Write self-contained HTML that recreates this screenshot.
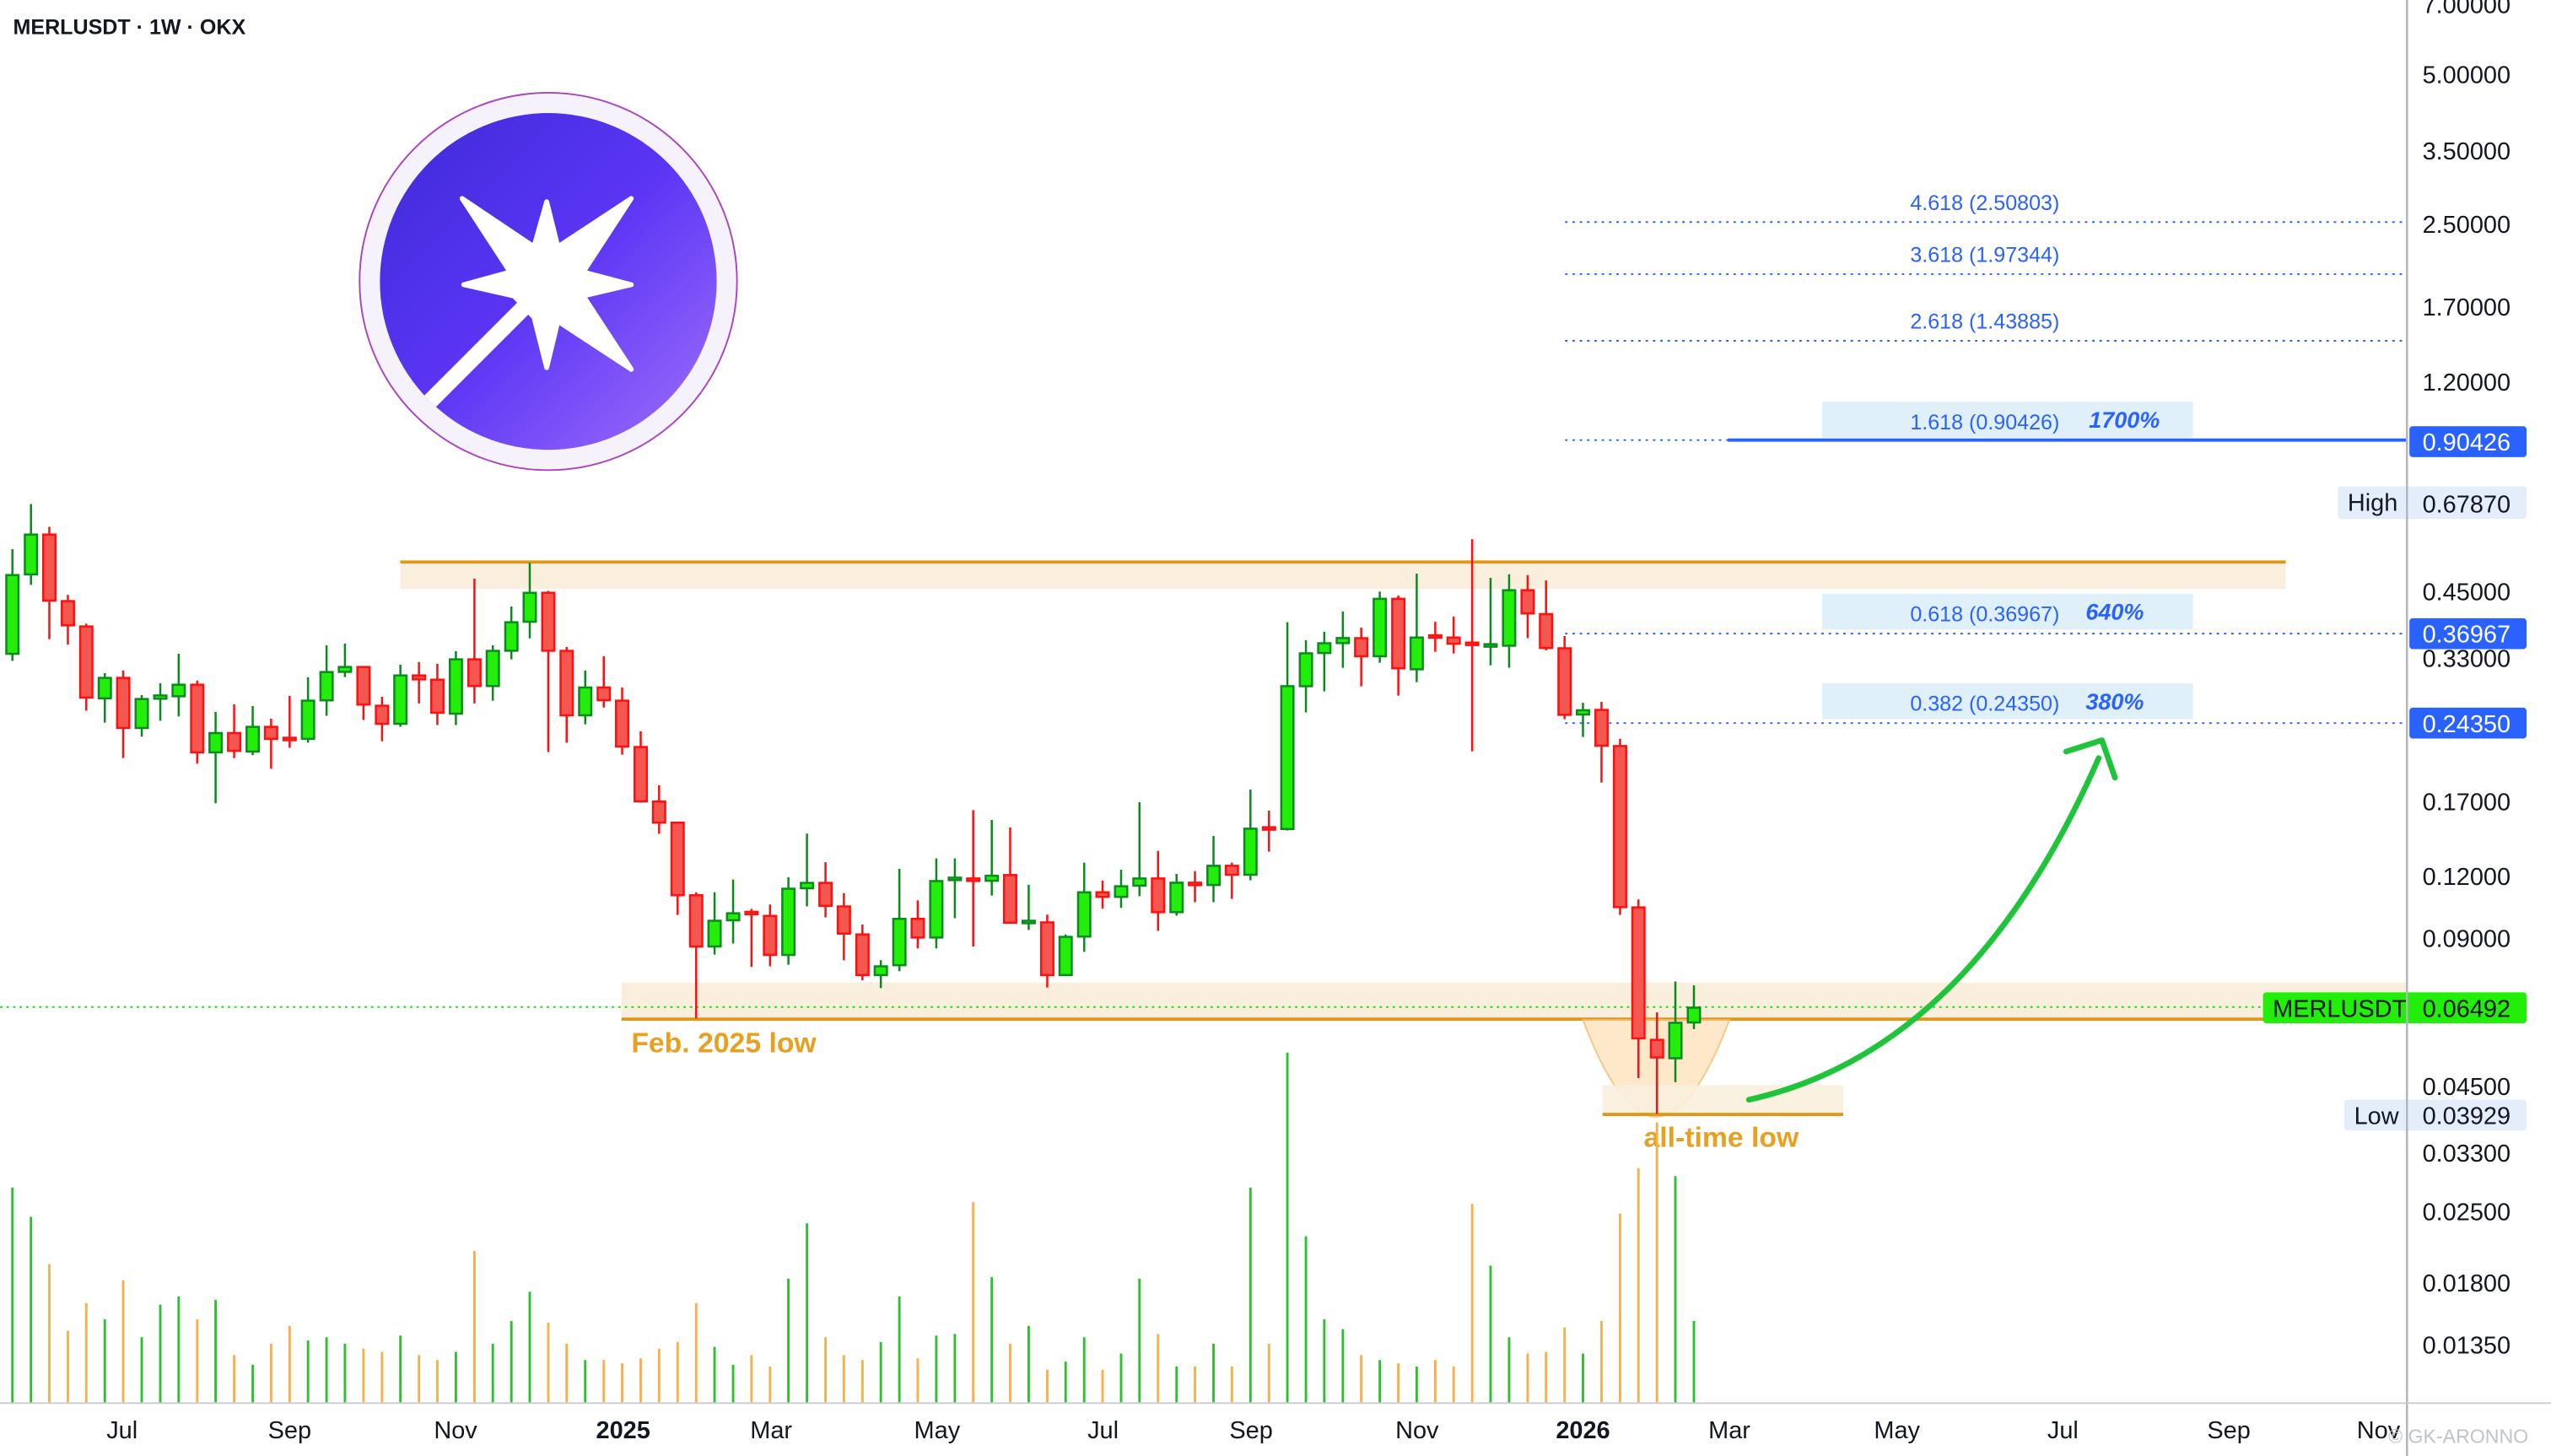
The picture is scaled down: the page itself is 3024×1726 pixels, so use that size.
<!DOCTYPE html>
<html><head><meta charset="utf-8"><style>
html,body{margin:0;padding:0;background:#fff;}
svg{display:block;}
text{font-family:"Liberation Sans",Arial,sans-serif;}
.g rect{fill:#22ee0a;stroke:#0b8a1e;stroke-width:1.3}
.g path{stroke:#0b8a1e;stroke-width:1.3;fill:none}
.r rect{fill:#f4574f;stroke:#ff1010;stroke-width:1.3}
.r path{stroke:#ff1010;stroke-width:1.3;fill:none}
.ax{font-size:15px;fill:#131722}
.tm{font-size:15px;fill:#131722}
</style></head><body>
<svg width="3024" height="1726" viewBox="0 0 1568 895" xmlns="http://www.w3.org/2000/svg">
<rect width="1568" height="895" fill="#fff"/>
<text x="8" y="21" font-size="13" font-weight="bold" fill="#131722">MERLUSDT · 1W · OKX</text>

<defs>
<linearGradient id="lg" x1="0" y1="0" x2="1" y2="1">
<stop offset="0" stop-color="#3d2bd6"/><stop offset="0.5" stop-color="#5b35f5"/><stop offset="1" stop-color="#a070fa"/>
</linearGradient>
<clipPath id="cc"><circle cx="337" cy="173" r="103.5"/></clipPath>
</defs>
<circle cx="337" cy="173" r="116" fill="#f6f2fc" stroke="#a845c0" stroke-width="1"/>
<circle cx="337" cy="173" r="103.5" fill="url(#lg)"/>
<g transform="translate(336,175)" fill="#fff">
<path d="M0,-51 L6.9,-23.3 L52,-53 L22.5,-7.8 L52,0 L22.5,6.9 L52,52 L6.9,22.5 L0,51 L-7.8,20 L-20,7 L-51,0 L-22.5,-7.8 L-52,-53 L-7.8,-23.3 Z" stroke="#fff" stroke-width="3" stroke-linejoin="round"/>
</g>
<g clip-path="url(#cc)"><line x1="340" y1="171" x2="250" y2="261" stroke="#fff" stroke-width="10"/></g>

<rect x="246" y="347" width="1159" height="15" fill="#faefdd"/>
<line x1="246" y1="345.5" x2="1405" y2="345.5" stroke="#e0981a" stroke-width="2"/>
<rect x="382" y="604" width="1097" height="22" fill="#faefdd"/>
<line x1="0" y1="619" x2="1391" y2="619" stroke="#22dd22" stroke-width="1" stroke-dasharray="1.5 2.5"/>
<line x1="382" y1="626.5" x2="1479" y2="626.5" stroke="#e0981a" stroke-width="2"/>
<text x="388" y="647" font-size="17.5" font-weight="bold" fill="#e8a020">Feb. 2025 low</text>
<path d="M973,627 Q1018,746 1063,627 Z" fill="#fde6c4" stroke="#f5c27a" stroke-width="1" opacity="0.9"/>
<rect x="985" y="667" width="148" height="17" fill="#faefdd" opacity="0.9"/>
<line x1="985" y1="685" x2="1133" y2="685" stroke="#e0981a" stroke-width="2"/>
<text x="1058" y="705" font-size="17.5" font-weight="bold" fill="#e8a020" text-anchor="middle">all-time low</text>

<g stroke="#2962ff" stroke-width="1" stroke-dasharray="1.5 3" fill="none">
<line x1="962" y1="136.5" x2="1479" y2="136.5"/>
<line x1="962" y1="168.5" x2="1479" y2="168.5"/>
<line x1="962" y1="209.5" x2="1479" y2="209.5"/>
<line x1="962" y1="270.5" x2="1062" y2="270.5"/>
<line x1="962" y1="389.5" x2="1479" y2="389.5"/>
<line x1="962" y1="444.5" x2="1479" y2="444.5"/>
</g>
<line x1="1062" y1="270.5" x2="1479" y2="270.5" stroke="#2962ff" stroke-width="2"/>
<rect x="1120" y="247" width="228" height="22" fill="#dff0fb"/>
<rect x="1120" y="365" width="228" height="22" fill="#dff0fb"/>
<rect x="1120" y="420" width="228" height="22" fill="#dff0fb"/>
<g font-size="13" fill="#2962ff" text-anchor="middle">
<text x="1220" y="129">4.618 (2.50803)</text>
<text x="1220" y="161">3.618 (1.97344)</text>
<text x="1220" y="202">2.618 (1.43885)</text>
<text x="1220" y="264">1.618 (0.90426)</text>
<text x="1220" y="382">0.618 (0.36967)</text>
<text x="1220" y="437">0.382 (0.24350)</text>
</g>
<g font-size="14" fill="#2962ff" font-weight="bold" font-style="italic">
<text x="1284" y="263">1700%</text>
<text x="1282" y="381">640%</text>
<text x="1282" y="436">380%</text>
</g>

<g stroke-width="1.5">
<path stroke="#2fc02f" d="M7.6,862V730M19,862V748M64.4,862V811M87.1,862V822M98.5,862V802M109.8,862V797M132.5,862V799M155.3,862V839M189.3,862V824M200.7,862V822M212,862V826M246.1,862V821M280.2,862V831M302.9,862V826M314.3,862V812M325.6,862V794M359.7,862V836M439.2,862V828M450.6,862V839M484.6,862V786M496,862V752M541.4,862V825M552.8,862V797M575.5,862V821M586.9,862V820M609.6,862V785M632.3,862V815M655,862V837M666.4,862V822M689.1,862V832M700.4,862V786M723.2,862V840M745.9,862V826M768.6,862V730M791.3,862V647M802.7,862V760M814,862V811M825.4,862V817M848.1,862V836M870.8,862V840M916.2,862V778M927.6,862V822M973,862V832M1029.8,862V723M1041.2,862V812"/>
<path stroke="#f7b04c" d="M30.3,862V777M41.7,862V818M53,862V801M75.7,862V787M121.2,862V811M143.9,862V833M166.6,862V826M178,862V815M223.4,862V829M234.8,862V831M257.5,862V833M268.8,862V836M291.6,862V769M337,862V813M348.3,862V826M371.1,862V836M382.4,862V838M393.8,862V835M405.1,862V829M416.5,862V825M427.9,862V801M461.9,862V833M473.3,862V840M507.4,862V822M518.7,862V833M530.1,862V836M564.1,862V835M598.2,862V739M620.9,862V826M643.7,862V842M677.7,862V842M711.8,862V820M734.5,862V840M757.2,862V840M780,862V826M836.7,862V833M859.5,862V838M882.2,862V836M893.5,862V840M904.9,862V740M939,862V832M950.3,862V831M961.7,862V816M984.4,862V812M995.8,862V746M1007.1,862V718M1018.5,862V690"/>
</g>

<g class="g">
<path d="M7.6,337.6V406.2M19,309.8V359.5M64.4,413.8V444.2M87.1,427.3V452.8M98.5,420V443M109.8,401.9V440.4M132.5,437.6V493.8M155.3,434V464.2M189.3,416.4V456.6M200.7,396.7V440M212,395.6V416.2M246.1,408.6V446.8M280.2,400.3V445.7M302.9,396.7V430.7M314.3,372.8V405.3M325.6,345.9V392.4M359.7,412.2V445.2M439.2,548.5V586.8M450.6,540.7V580M484.6,539.2V593M496,512.4V557.2M541.4,590.2V607.4M552.8,534V597M575.5,527.7V583M586.9,527.7V564.4M609.6,504V550.5M632.3,543.9V571.6M655,574.4V599.4M666.4,530.3V585.1M689.1,534.6V558.1M700.4,493.1V550.9M723.2,537.2V562.9M745.9,513.9V554.6M768.6,485.3V541.1M791.3,382.5V510.5M802.7,393.5V437.9M814,388.3V425M825.4,375.9V410.5M848.1,363.6V407.4M870.8,352.6V419.3M916.2,355.2V409M927.6,353V410.4M973,432V453M1029.8,603.3V665.2M1041.2,605.7V632.6"/>
<rect x="3.85" y="353.5" width="7.5" height="48.4"/>
<rect x="15.25" y="328.6" width="7.5" height="24.5"/>
<rect x="60.65" y="416.7" width="7.5" height="12.6"/>
<rect x="83.35" y="429.7" width="7.5" height="17.8"/>
<rect x="94.75" y="427.5" width="7.5" height="2"/>
<rect x="106.05" y="420.9" width="7.5" height="7.1"/>
<rect x="128.75" y="450.6" width="7.5" height="11.9"/>
<rect x="151.55" y="446.8" width="7.5" height="15.2"/>
<rect x="185.55" y="430.7" width="7.5" height="23.5"/>
<rect x="196.95" y="413.1" width="7.5" height="17.4"/>
<rect x="208.25" y="410" width="7.5" height="3"/>
<rect x="242.35" y="415.2" width="7.5" height="29.7"/>
<rect x="276.45" y="405.3" width="7.5" height="33.4"/>
<rect x="299.15" y="400.1" width="7.5" height="21.6"/>
<rect x="310.55" y="382.5" width="7.5" height="17.5"/>
<rect x="321.85" y="364.4" width="7.5" height="17.8"/>
<rect x="355.95" y="422.6" width="7.5" height="17.1"/>
<rect x="435.45" y="566" width="7.5" height="15.8"/>
<rect x="446.85" y="561.4" width="7.5" height="4.3"/>
<rect x="480.85" y="546.3" width="7.5" height="40.7"/>
<rect x="492.25" y="542.7" width="7.5" height="3.3"/>
<rect x="537.65" y="594" width="7.5" height="5.4"/>
<rect x="549.05" y="564.8" width="7.5" height="28.5"/>
<rect x="571.75" y="541.6" width="7.5" height="34.7"/>
<rect x="583.15" y="539.5" width="7.5" height="1.5"/>
<rect x="605.85" y="538.3" width="7.5" height="3.1"/>
<rect x="628.55" y="566" width="7.5" height="1.5"/>
<rect x="651.25" y="575.9" width="7.5" height="23.5"/>
<rect x="662.65" y="548.5" width="7.5" height="27.2"/>
<rect x="685.35" y="544.8" width="7.5" height="6.5"/>
<rect x="696.65" y="540" width="7.5" height="4.4"/>
<rect x="719.45" y="542.6" width="7.5" height="18.1"/>
<rect x="742.15" y="532.2" width="7.5" height="11.8"/>
<rect x="764.85" y="509.4" width="7.5" height="28.3"/>
<rect x="787.55" y="421.8" width="7.5" height="87.8"/>
<rect x="798.95" y="401.6" width="7.5" height="20.2"/>
<rect x="810.25" y="395.4" width="7.5" height="6"/>
<rect x="821.65" y="392.2" width="7.5" height="3.1"/>
<rect x="844.35" y="368.1" width="7.5" height="35.3"/>
<rect x="867.05" y="391.9" width="7.5" height="19.5"/>
<rect x="912.45" y="396" width="7.5" height="1.5"/>
<rect x="923.85" y="362.8" width="7.5" height="34.1"/>
<rect x="969.25" y="436.6" width="7.5" height="2.6"/>
<rect x="1026.05" y="628.7" width="7.5" height="21.8"/>
<rect x="1037.45" y="619.4" width="7.5" height="9.1"/>
</g>
<g class="r">
<path d="M30.3,323.8V392.9M41.7,365.7V396.3M53,383.4V436.9M75.7,412.2V466M121.2,418.3V469.4M143.9,433V466M166.6,441.8V472.5M178,427.8V459.7M223.4,409.3V442.6M234.8,428.3V455.6M257.5,407V432.4M268.8,408V445.7M291.6,355.7V432.4M337,363.2V462.3M348.3,397.7V456.6M371.1,403.4V434.9M382.4,422.6V463.9M393.8,449.5V493.4M405.1,482.7V512.5M416.5,505V562.4M427.9,548.5V626M461.9,558.7V594.4M473.3,556V594M507.4,530V563.9M518.7,549V590.3M530.1,568.3V602.6M564.1,553.5V583M598.2,498V581.8M620.9,508.7V567.2M643.7,562.2V607M677.7,541.3V558.5M711.8,523.1V572.2M734.5,535.5V554.6M757.2,530.3V552.6M780,498.3V523.5M836.7,385.8V421.9M859.5,366.1V427.6M882.2,382.2V400.7M893.5,379V401.7M904.9,331.4V461.8M939,353.6V392.3M950.3,356.8V399.7M961.7,391V442.1M984.4,431.4V481M995.8,454.2V562.4M1007.1,552.9V662.7M1018.5,622.3V684.7"/>
<rect x="26.55" y="328.6" width="7.5" height="40.6"/>
<rect x="37.95" y="369.5" width="7.5" height="14.9"/>
<rect x="49.25" y="385.1" width="7.5" height="43.7"/>
<rect x="71.95" y="416.7" width="7.5" height="30.8"/>
<rect x="117.45" y="420.9" width="7.5" height="41.6"/>
<rect x="140.15" y="450.6" width="7.5" height="10.9"/>
<rect x="162.85" y="446.8" width="7.5" height="7.4"/>
<rect x="174.25" y="453.5" width="7.5" height="1.5"/>
<rect x="219.65" y="410" width="7.5" height="23.1"/>
<rect x="231.05" y="433.8" width="7.5" height="11.1"/>
<rect x="253.75" y="415.2" width="7.5" height="2.4"/>
<rect x="265.05" y="417.8" width="7.5" height="20.3"/>
<rect x="287.85" y="405.3" width="7.5" height="16.4"/>
<rect x="333.25" y="364.4" width="7.5" height="35.6"/>
<rect x="344.55" y="400.1" width="7.5" height="39.6"/>
<rect x="367.35" y="422.6" width="7.5" height="7.8"/>
<rect x="378.65" y="430.7" width="7.5" height="28.2"/>
<rect x="390.05" y="459.2" width="7.5" height="33.4"/>
<rect x="401.35" y="492.7" width="7.5" height="13"/>
<rect x="412.75" y="505.7" width="7.5" height="44.6"/>
<rect x="424.15" y="550.3" width="7.5" height="31.5"/>
<rect x="458.15" y="560.5" width="7.5" height="1.5"/>
<rect x="469.55" y="563" width="7.5" height="24"/>
<rect x="503.65" y="542.7" width="7.5" height="14.1"/>
<rect x="514.95" y="557.2" width="7.5" height="16.7"/>
<rect x="526.35" y="574.4" width="7.5" height="25"/>
<rect x="560.35" y="564.8" width="7.5" height="11.5"/>
<rect x="594.45" y="540" width="7.5" height="1.5"/>
<rect x="617.15" y="537.9" width="7.5" height="29.3"/>
<rect x="639.95" y="567" width="7.5" height="32.4"/>
<rect x="673.95" y="548.5" width="7.5" height="2.8"/>
<rect x="708.05" y="540" width="7.5" height="20.7"/>
<rect x="730.75" y="542.6" width="7.5" height="1.5"/>
<rect x="753.45" y="532.2" width="7.5" height="5.5"/>
<rect x="776.25" y="508.5" width="7.5" height="1.5"/>
<rect x="832.95" y="392.3" width="7.5" height="11.1"/>
<rect x="855.75" y="368.1" width="7.5" height="42.7"/>
<rect x="878.45" y="390.5" width="7.5" height="1.5"/>
<rect x="889.75" y="391.9" width="7.5" height="3.8"/>
<rect x="901.15" y="395" width="7.5" height="1.5"/>
<rect x="935.25" y="362.8" width="7.5" height="14.3"/>
<rect x="946.55" y="377.5" width="7.5" height="20.8"/>
<rect x="957.95" y="398.5" width="7.5" height="40.9"/>
<rect x="980.65" y="436.4" width="7.5" height="22"/>
<rect x="992.05" y="458.6" width="7.5" height="99"/>
<rect x="1003.35" y="557.8" width="7.5" height="80.5"/>
<rect x="1014.75" y="639.2" width="7.5" height="10.8"/>
</g>

<path d="M1075,676 C1170,655 1240,580 1290,466" stroke="#1fc43a" stroke-width="3.5" fill="none" stroke-linecap="round"/>
<path d="M1270,462 L1292,455 L1300,478" stroke="#1fc43a" stroke-width="3.5" fill="none" stroke-linecap="round" stroke-linejoin="round"/>

<line x1="1479.5" y1="0" x2="1479.5" y2="895" stroke="#b2b5be" stroke-width="1.3"/>
<line x1="0" y1="862.5" x2="1568" y2="862.5" stroke="#c8cad0" stroke-width="1"/>
<g class="ax">
<text x="1489" y="8">7.00000</text>
<text x="1489" y="51">5.00000</text>
<text x="1489" y="98">3.50000</text>
<text x="1489" y="143">2.50000</text>
<text x="1489" y="194">1.70000</text>
<text x="1489" y="240">1.20000</text>
<text x="1489" y="369">0.45000</text>
<text x="1489" y="410">0.33000</text>
<text x="1489" y="498">0.17000</text>
<text x="1489" y="544">0.12000</text>
<text x="1489" y="582">0.09000</text>
<text x="1489" y="673">0.04500</text>
<text x="1489" y="714">0.03300</text>
<text x="1489" y="750">0.02500</text>
<text x="1489" y="794">0.01800</text>
<text x="1489" y="832">0.01350</text>
</g>
<rect x="1481" y="262" width="72" height="19" rx="2" fill="#2962ff"/>
<text x="1489" y="277" class="ax" style="fill:#fff">0.90426</text>
<rect x="1437" y="299" width="116" height="20" rx="2" fill="#e3eefa"/>
<text x="1443" y="314" class="ax">High</text>
<text x="1489" y="315" class="ax">0.67870</text>
<rect x="1481" y="380" width="72" height="19" rx="2" fill="#2962ff"/>
<text x="1489" y="395" class="ax" style="fill:#fff">0.36967</text>
<rect x="1481" y="435" width="72" height="19" rx="2" fill="#2962ff"/>
<text x="1489" y="450" class="ax" style="fill:#fff">0.24350</text>
<rect x="1391" y="610" width="162" height="19" rx="2" fill="#22ee0a"/>
<text x="1397" y="625" class="ax">MERLUSDT</text>
<text x="1489" y="625" class="ax">0.06492</text>
<rect x="1441" y="676" width="112" height="19" rx="2" fill="#e3eefa"/>
<text x="1447" y="691" class="ax">Low</text>
<text x="1489" y="691" class="ax">0.03929</text>
<line x1="1479.5" y1="260" x2="1479.5" y2="700" stroke="#b2b5be" stroke-width="1.3"/>

<g class="tm" text-anchor="middle">
<text x="75" y="884">Jul</text>
<text x="178" y="884">Sep</text>
<text x="280" y="884">Nov</text>
<text x="383" y="884" font-weight="bold">2025</text>
<text x="474" y="884">Mar</text>
<text x="576" y="884">May</text>
<text x="678" y="884">Jul</text>
<text x="769" y="884">Sep</text>
<text x="871" y="884">Nov</text>
<text x="973" y="884" font-weight="bold">2026</text>
<text x="1063" y="884">Mar</text>
<text x="1166" y="884">May</text>
<text x="1268" y="884">Jul</text>
<text x="1370" y="884">Sep</text>
<text x="1462" y="884">Nov</text>
</g>
<text x="1468" y="887" font-size="12" fill="#c0c3ca">© GK-ARONNO</text>
</svg>
</body></html>
